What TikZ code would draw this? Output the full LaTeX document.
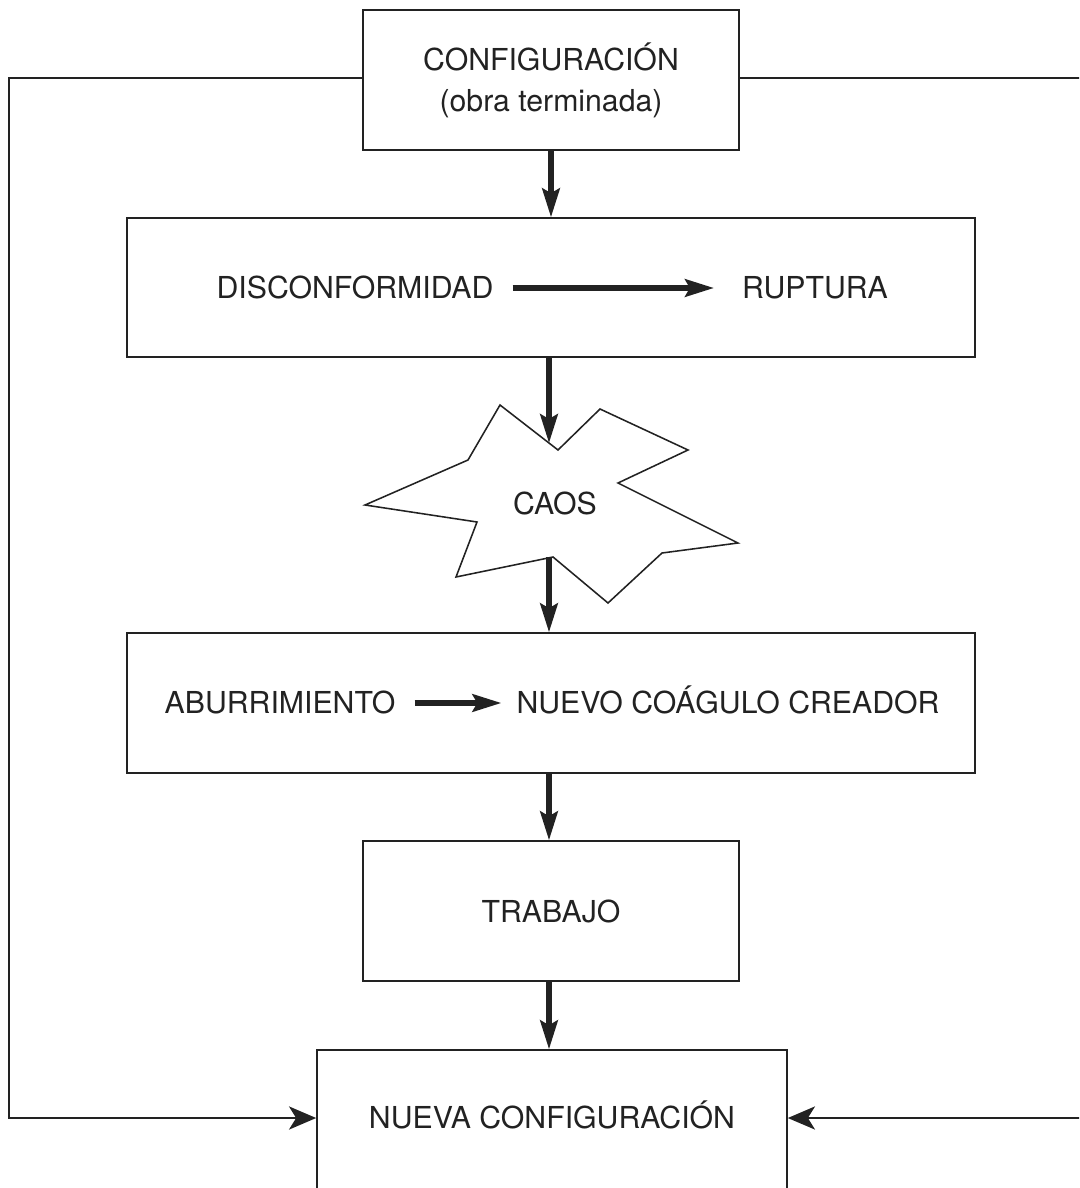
\documentclass[tikz,border=0pt]{standalone}
\usepackage{fontspec}
\setmainfont{TeX Gyre Heros}
\usepackage{tikz}
\usetikzlibrary{arrows.meta}

\definecolor{tinta}{HTML}{222222}

\tikzset{
	caja/.style={draw=tinta, line width=1.1pt, minimum width=9.4cm, minimum height=3.5cm, align=center},
	texto/.style={inner sep=0pt, text height=15.4pt, text depth=0pt, text=tinta},
	flecha/.style={draw=tinta, line width=3.6pt, -{Stealth[length=0.72cm, width=0.44cm, inset=0.12cm]}},
	retorno/.style={draw=tinta, line width=1.1pt, -{Stealth[length=0.68cm, width=0.58cm, inset=0.18cm]}}
}

\begin{document}
\begin{tikzpicture}[x=0.025cm, y=-0.025cm, font=\fontsize{21.5}{29}\selectfont, text=tinta]
	\useasboundingbox (0,0) rectangle (1079,1188);
	\clip (0,0) rectangle (1079,1188);
	% cajas
	\node[caja] (config) at (551,80) {CONFIGURACIÓN\\(obra terminada)};
	\node[caja, minimum width=21.2cm, minimum height=3.475cm] (fila1) at (551,287.5) {};
	\node[texto] (discon) at (355,288) {DISCONFORMIDAD};
	\node[texto] (ruptura) at (815,288) {RUPTURA};
	\node[caja, minimum width=21.2cm] (fila2) at (551,703) {};
	\node[texto] (aburr) at (280,703) {ABURRIMIENTO};
	\node[texto] (coagulo) at (728,703) {NUEVO COÁGULO CREADOR};
	\node[caja] (trabajo) at (551,911) {TRABAJO};
	\node[caja, minimum width=11.75cm, minimum height=3.6cm, text height=15.4pt, text depth=5.6pt] (nueva) at (552,1122) {NUEVA CONFIGURACIÓN};
	% caos
	\draw[tinta, line width=1.1pt, fill=white] (500,405) -- (558,450) -- (600,409) -- (688,450) -- (618,483) -- (738,543) -- (662,553) -- (608,603) -- (553,557) -- (456,577) -- (477,522) -- (365,505) -- (468,460) -- cycle;
	\node[texto] (caos) at (555,504) {CAOS};
	\coordinate (caosN) at (549,443);
	\coordinate (caosS) at (549,557);
	% flechas
	\draw[flecha] (config.south) -- (fila1.north);
	\draw[flecha, shorten <=0.475cm, shorten >=0.7cm] (discon.east) -- (ruptura.west);
	\draw[flecha] (fila1.south -| caosN) -- (caosN);
	\draw[flecha] (caosS) -- (fila2.north -| caosS);
	\draw[flecha, shorten <=0.475cm, shorten >=0.375cm] (aburr.east) -- (coagulo.west);
	\draw[flecha] (fila2.south -| caosS) -- (trabajo.north -| caosS);
	\draw[flecha] (trabajo.south -| caosS) -- (nueva.north -| caosS);
	% lazos de retorno
	\coordinate (izq) at (9,78);
	\coordinate (der) at (1092,78);
	\coordinate (abajo) at (0,1118);
	\draw[retorno] (config.west |- izq) -- (izq) |- (nueva.west |- abajo);
	\draw[retorno] (config.east |- der) -- (der) |- (nueva.east |- abajo);
\end{tikzpicture}
\end{document}
